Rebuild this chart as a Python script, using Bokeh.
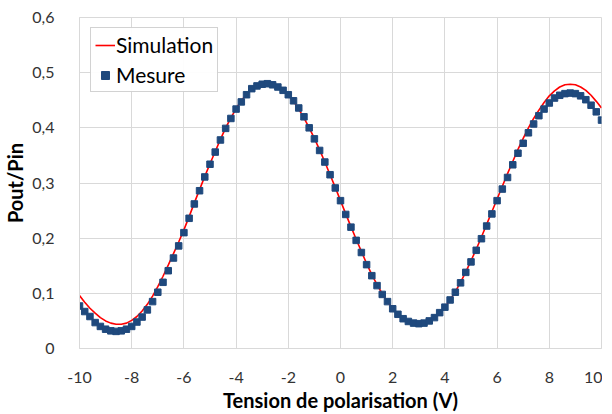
from bokeh.plotting import figure
from bokeh.models import FixedTicker, Legend, LegendItem, ColumnDataSource
from bokeh.embed import file_html
from bokeh.resources import INLINE

# Tension de polarisation (V): -10 .. 10 every 0.2 V
tension = [round(-10 + 0.2 * i, 1) for i in range(101)]

mesure = [
    0.077, 0.067, 0.058, 0.047, 0.040, 0.035, 0.032, 0.031, 0.032, 0.035,
    0.040, 0.048, 0.057, 0.070, 0.085, 0.102, 0.120, 0.141, 0.164, 0.186,
    0.210, 0.236, 0.262, 0.286, 0.311, 0.334, 0.356, 0.378, 0.399, 0.417,
    0.434, 0.447, 0.460, 0.471, 0.476, 0.479, 0.480, 0.478, 0.474, 0.468,
    0.460, 0.449, 0.436, 0.420, 0.400, 0.380, 0.359, 0.338, 0.315, 0.291,
    0.268, 0.243, 0.220, 0.196, 0.174, 0.152, 0.132, 0.114, 0.098, 0.085,
    0.072, 0.062, 0.054, 0.049, 0.046, 0.045, 0.046, 0.050, 0.056, 0.065,
    0.075, 0.088, 0.102, 0.119, 0.138, 0.157, 0.178, 0.199, 0.222, 0.244,
    0.268, 0.289, 0.310, 0.333, 0.354, 0.372, 0.391, 0.407, 0.422, 0.434,
    0.445, 0.454, 0.459, 0.462, 0.463, 0.462, 0.458, 0.451, 0.441, 0.429,
    0.414,
]

simulation = [
    0.096, 0.084, 0.073, 0.064, 0.056, 0.050, 0.046, 0.044, 0.044, 0.046,
    0.051, 0.058, 0.068, 0.080, 0.095, 0.112, 0.131, 0.151, 0.172, 0.193,
    0.215, 0.239, 0.264, 0.288, 0.312, 0.335, 0.357, 0.379, 0.400, 0.418,
    0.435, 0.449, 0.461, 0.470, 0.476, 0.480, 0.481, 0.479, 0.475, 0.468,
    0.459, 0.448, 0.434, 0.418, 0.400, 0.381, 0.360, 0.338, 0.315, 0.292,
    0.268, 0.244, 0.221, 0.198, 0.176, 0.154, 0.134, 0.116, 0.099, 0.085,
    0.072, 0.062, 0.054, 0.048, 0.045, 0.044, 0.045, 0.049, 0.055, 0.064,
    0.075, 0.088, 0.103, 0.120, 0.139, 0.159, 0.180, 0.202, 0.225, 0.248,
    0.271, 0.294, 0.317, 0.339, 0.361, 0.381, 0.400, 0.417, 0.432, 0.446,
    0.458, 0.467, 0.474, 0.478, 0.479, 0.478, 0.474, 0.468, 0.459, 0.448,
    0.436,
]

x_ticks = [-10, -8, -6, -4, -2, 0, 2, 4, 6, 8, 10]
x_tick_labels = ["-10", "-8", "-6", "-4", "-2", "0", "2", "4", "6", "8", "10"]
y_ticks = [0, 0.1, 0.2, 0.3, 0.4, 0.5, 0.6]
y_tick_labels = ["0", "0,1", "0,2", "0,3", "0,4", "0,5", "0,6"]

FONT = "Lato"
TXT = "#333333"

p = figure(frame_width=522, frame_height=331, x_range=(-10, 10), y_range=(0, 0.6),
           output_backend="svg", toolbar_location=None,
           min_border_left=73, min_border_right=1, min_border_top=17,
           min_border_bottom=62)

src = ColumnDataSource(dict(x=tension, sim=simulation, mes=mesure))
r_sim = p.line("x", "sim", source=src, line_color="#ff0000", line_width=1.6)
r_mes = p.scatter("x", "mes", source=src, marker="square", size=6.5,
                  fill_color="#1f497d", line_color="#1f497d")

p.xaxis.ticker = FixedTicker(ticks=x_ticks)
p.yaxis.ticker = FixedTicker(ticks=y_ticks)
p.xaxis.major_label_overrides = {t: l for t, l in zip(x_ticks, x_tick_labels)}
p.yaxis.major_label_overrides = {t: l for t, l in zip(y_ticks, y_tick_labels)}

for ax in (p.xaxis[0], p.yaxis[0]):
    ax.major_tick_line_color = None
    ax.minor_tick_line_color = None
    ax.axis_line_color = "#d9d9d9"
    ax.major_label_text_font = FONT
    ax.major_label_text_font_size = "16px"
    ax.major_label_text_color = TXT
    ax.axis_label_text_font = FONT
    ax.axis_label_text_font_size = "20px"
    ax.axis_label_text_font_style = "bold"
    ax.axis_label_text_color = "#000000"

p.xaxis.axis_label = "Tension de polarisation (V)"
p.yaxis.axis_label = "Pout/Pin"
p.xaxis.major_label_standoff = 17
p.yaxis.major_label_standoff = 19
p.xaxis.axis_label_standoff = 2
p.yaxis.axis_label_standoff = 2

p.xgrid.grid_line_color = "#d9d9d9"
p.ygrid.grid_line_color = "#d9d9d9"
p.outline_line_color = "#d9d9d9"
p.background_fill_color = "white"
p.border_fill_color = "white"

legend = Legend(items=[LegendItem(label="Simulation", renderers=[r_sim]),
                       LegendItem(label="Mesure", renderers=[r_mes])],
                location=(11, 256))
legend.label_text_font = FONT
legend.label_text_font_size = "21px"
legend.label_text_color = "#000000"
legend.border_line_color = "#a6a6a6"
legend.glyph_width = 20
legend.label_standoff = 1
legend.padding = 4
legend.spacing = 5
legend.margin = 0
p.add_layout(legend, "center")

open("out.html", "w").write(file_html(p, INLINE))
